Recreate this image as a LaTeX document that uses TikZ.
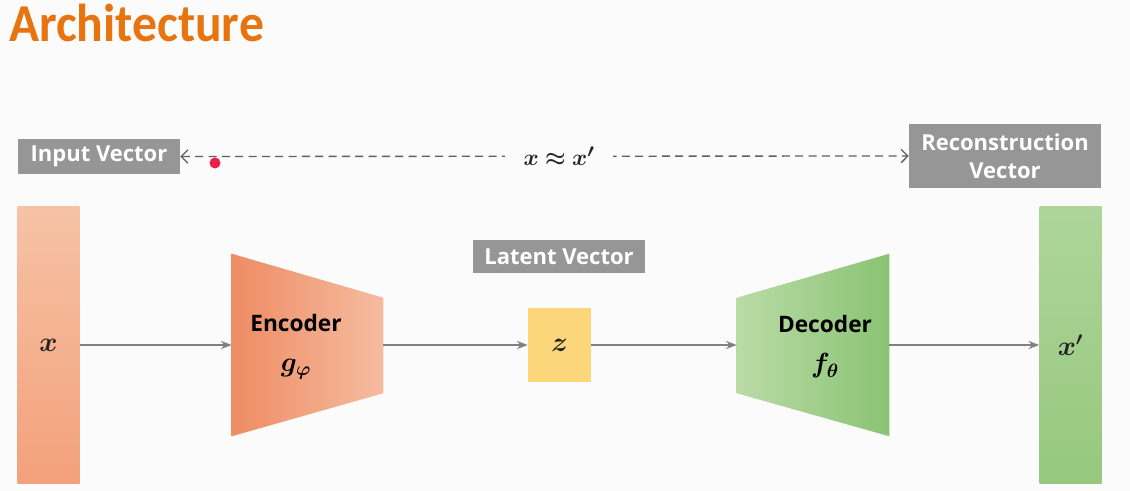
\documentclass[tikz,border=0pt]{standalone}
\usepackage{amsmath,amssymb,bm}
\usepackage{fontspec}
\setsansfont{Open Sans}
\newfontfamily\titlefont{Carlito}
\usetikzlibrary{arrows.meta,positioning}
\definecolor{titleorange}{RGB}{232,116,16}
\definecolor{labelgray}{RGB}{150,150,150}
\definecolor{linegray}{RGB}{128,128,128}
\definecolor{dashgray}{RGB}{95,95,95}
\definecolor{mathink}{RGB}{35,35,35}
\definecolor{bgwhite}{RGB}{251,251,251}
\definecolor{peachtop}{RGB}{246,194,165}
\definecolor{peachbot}{RGB}{243,161,122}
\definecolor{encleft}{RGB}{238,140,100}
\definecolor{encright}{RGB}{245,188,160}
\definecolor{latentfill}{RGB}{252,214,122}
\definecolor{decleft}{RGB}{186,219,166}
\definecolor{decright}{RGB}{138,195,116}
\definecolor{greentop}{RGB}{174,213,154}
\definecolor{greenbot}{RGB}{150,200,126}
\definecolor{dotred}{RGB}{235,30,70}
\def\px{0.75pt}

\begin{document}
\begin{tikzpicture}[x=0.75pt,y=-0.75pt,
    tag/.style={fill=labelgray, text=white, inner sep=0pt, align=center,
                font=\sffamily\bfseries\fontsize{16.5}{21}\selectfont},
    bar/.style={inner sep=0pt, minimum width=62*\px, minimum height=276*\px,
                text=mathink, font=\fontsize{22}{24}\selectfont},
    blocklbl/.style={align=center, inner sep=0pt,
                font=\sffamily\bfseries\fontsize{17}{30}\selectfont},
    flow/.style={draw=linegray, line width=1.5pt, -{Stealth[length=8pt,width=6pt]}}]
    \fill[bgwhite] (0,0) rectangle (1130,491);

    \node[anchor=north west, inner sep=0pt, text=titleorange,
          font=\titlefont\bfseries\fontsize{40}{40}\selectfont] (title) at (9,4)
          {\scalebox{0.93}[1]{Architecture}};

    \node[tag, minimum width=162*\px, minimum height=35*\px] (inp) at (99,156.5) {Input Vector};
    \node[tag, minimum width=192*\px, minimum height=64*\px] (rec) at (1005,156) {Reconstruction\\Vector};
    \node[tag, minimum width=172*\px, minimum height=33*\px] (lat) at (559,256.5) {Latent Vector};

    \draw[dashgray, line width=1pt, dash pattern=on 6pt off 4pt,
          {Straight Barb[length=5pt]}-{Straight Barb[length=5pt]}]
        (inp.east) -- node[pos=0.52, fill=bgwhite, text=mathink, inner xsep=14pt,
          font=\fontsize{19}{22}\selectfont] (approx) {$\bm{x \approx x'}$} (rec.west);
    \node[circle, fill=dotred, inner sep=0pt, minimum size=11*\px] (dot) at (215,163) {};

    \node[bar, top color=peachtop, bottom color=peachbot] (xin) at (48.5,345) {$\bm{x}$};
    \node[bar, top color=greentop, bottom color=greenbot] (xout) at (1070.5,345) {$\bm{x'}$};
    \node[fill=latentfill, inner sep=0pt, minimum width=63*\px, minimum height=73*\px,
          text=mathink, font=\fontsize{22}{24}\selectfont] (z) at (559.5,345) {$\bm{z}$};

    \node[inner sep=0pt, minimum width=151*\px, minimum height=182*\px] (enc) at (307.5,345) {};
    \node[inner sep=0pt, minimum width=152*\px, minimum height=182*\px] (dec) at (813,345) {};
    \shade[left color=encleft, right color=encright]
        (enc.north west) -- ([yshift=-44*\px]enc.north east)
        -- ([yshift=43*\px]enc.south east) -- (enc.south west) -- cycle;
    \shade[left color=decleft, right color=decright]
        ([yshift=-44*\px]dec.north west) -- (dec.north east)
        -- (dec.south east) -- ([yshift=43*\px]dec.south west) -- cycle;
    \node[blocklbl] (enclbl) at (296,347) {Encoder\\{\fontsize{21}{22}\selectfont$\bm{g_\varphi}$}};
    \node[blocklbl] (declbl) at (825,347) {Decoder\\{\fontsize{21}{22}\selectfont$\bm{f_\theta}$}};

    \draw[flow] (xin.east) -- (enc.west);
    \draw[flow] (enc.east) -- (z.west);
    \draw[flow] (z.east) -- (dec.west);
    \draw[flow] (dec.east) -- (xout.west);
\end{tikzpicture}
\end{document}
